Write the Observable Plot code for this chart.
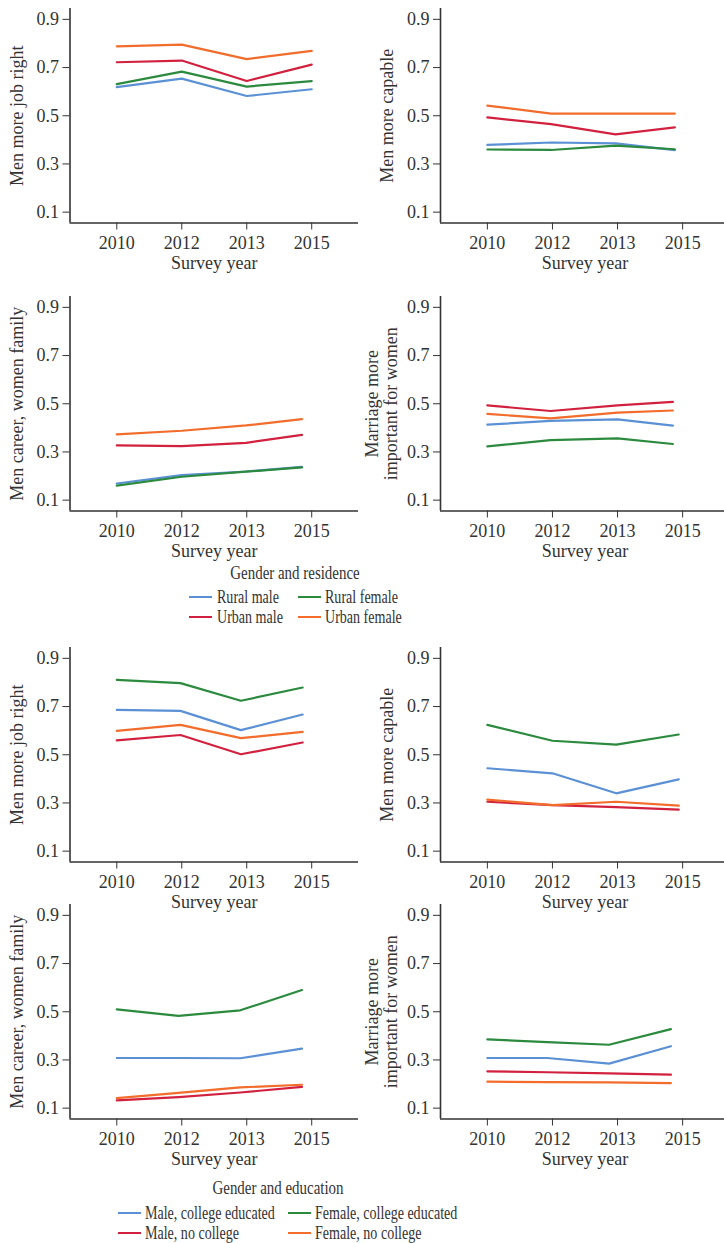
<!DOCTYPE html>
<html>
<head>
<meta charset="utf-8">
<script src="https://cdn.jsdelivr.net/npm/d3@7"></script>
<script src="https://cdn.jsdelivr.net/npm/@observablehq/plot@0.6"></script>
<style>
  html, body { margin: 0; padding: 0; background: #fff; }
  #root { position: relative; width: 724px; height: 1243px; overflow: hidden; font-family: 'Liberation Serif', serif; color: #333; }
  .panel { position: absolute; width: 370px; }
  .panel svg { overflow: visible; max-width: none !important; }
  .lg-title, .lg-label { position: absolute; font-size: 18px; line-height: 1; white-space: nowrap; color: #333; }
  .lg-swatch { position: absolute; height: 2.6px; }
</style>
</head>
<body>
<div id="root"></div>
<script>
// ---- Data ----
const years = ["2010", "2012", "2013", "2015"];
const yTicks = [0.1, 0.3, 0.5, 0.7, 0.9];
const measures = ["Men more job right", "Men more capable", "Men career, women family", "Marriage more\nimportant for women"];

const residenceTitle = "Gender and residence";
const residenceGroups = ["Rural male", "Rural female", "Urban male", "Urban female"];
const educationTitle = "Gender and education";
const educationGroups = ["Male, college educated", "Female, college educated", "Male, no college", "Female, no college"];
const seriesColors = ["#5b91d4", "#2b8a3e", "#d2213f", "#f26c2b"];

// series order: [blue, green, red, orange] for each panel
const resJobRight   = [[0.619, 0.654, 0.582, 0.610], [0.631, 0.683, 0.621, 0.644], [0.722, 0.729, 0.644, 0.712], [0.788, 0.795, 0.735, 0.769]];
const resCapable    = [[0.379, 0.389, 0.385, 0.357], [0.360, 0.358, 0.376, 0.361], [0.493, 0.465, 0.423, 0.452], [0.542, 0.509, 0.509, 0.509]];
const resCareer     = [[0.169, 0.204, 0.219, 0.238], [0.160, 0.197, 0.218, 0.236], [0.327, 0.324, 0.338, 0.371], [0.373, 0.388, 0.410, 0.436]];
const resMarriage   = [[0.413, 0.429, 0.435, 0.409], [0.323, 0.349, 0.356, 0.333], [0.493, 0.470, 0.493, 0.508], [0.458, 0.439, 0.463, 0.472]];

const eduJobRight   = [[0.686, 0.682, 0.602, 0.667], [0.811, 0.797, 0.724, 0.779], [0.560, 0.582, 0.502, 0.551], [0.599, 0.624, 0.569, 0.595]];
const eduCapable    = [[0.444, 0.423, 0.340, 0.398], [0.624, 0.558, 0.542, 0.584], [0.305, 0.291, 0.283, 0.272], [0.314, 0.291, 0.305, 0.289]];
const eduCareer     = [[0.308, 0.308, 0.307, 0.347], [0.510, 0.483, 0.506, 0.590], [0.132, 0.146, 0.165, 0.188], [0.142, 0.163, 0.186, 0.197]];
const eduMarriage   = [[0.308, 0.308, 0.285, 0.357], [0.385, 0.374, 0.363, 0.428], [0.253, 0.249, 0.244, 0.239], [0.210, 0.208, 0.207, 0.204]];

// survey positions (in year-slot units) where each panel's points sit
const resXPos = [[0, 1, 2, 3], [0, 0.98, 1.97, 2.88], [0, 1, 1.99, 2.85], [0, 0.97, 2, 2.85]];
const eduXPos = [[0, 0.98, 1.91, 2.86], [0, 1, 1.98, 2.94], [0, 0.95, 1.9, 2.85], [0, 0.92, 1.87, 2.82]];

// ---- Drawing ----
const root = document.getElementById("root");
const X_DOMAIN = [-0.72, 3.72];
const Y_DOMAIN = [0.055, 0.945];

function panel(measure, series, groups, xpos, isRight) {
  const rows = [];
  groups.forEach((g, i) => series[i].forEach((v, j) => rows.push({group: g, slot: xpos[j], value: v})));
  const twoLine = measure.includes("\n");
  return Plot.plot({
    width: isRight ? 367 : 362,
    height: 281,
    marginTop: 10,
    marginBottom: 56.5,
    marginLeft: isRight ? 78 : 69.5,
    marginRight: isRight ? 0 : 4,
    style: {fontFamily: "'Liberation Serif', serif", fontSize: "18px", color: "#333", background: "transparent", overflow: "visible", maxWidth: "none"},
    x: {domain: X_DOMAIN, ticks: [0, 1, 2, 3], tickFormat: i => years[i], tickSize: 7, tickPadding: 6, label: null},
    y: {domain: Y_DOMAIN, ticks: yTicks, tickFormat: d => d.toFixed(1), tickSize: 7, tickPadding: 4, label: null},
    color: {domain: groups, range: seriesColors},
    marks: [
      Plot.ruleY([Y_DOMAIN[0]], {stroke: "#333", strokeWidth: 1.6}),
      Plot.ruleX([X_DOMAIN[0]], {stroke: "#333", strokeWidth: 1.6}),
      Plot.line(rows, {x: "slot", y: "value", z: "group", stroke: "group", strokeWidth: 2.2}),
      Plot.text(["Survey year"], {text: d => d, frameAnchor: "bottom", dy: 40.5, textAnchor: "middle", lineAnchor: "middle", fill: "#333"}),
      Plot.text([measure], {text: d => d, frameAnchor: "left", dx: twoLine ? -59 : (isRight ? -53 : -52.5), rotate: -90, textAnchor: "middle", lineAnchor: "middle", lineHeight: 1.03, fill: "#333"})
    ]
  });
}

function place(el, left, top) {
  const d = document.createElement("div");
  d.className = "panel";
  d.style.left = left + "px";
  d.style.top = top + "px";
  d.appendChild(el);
  root.appendChild(d);
}

const resSets = [resJobRight, resCapable, resCareer, resMarriage];
const eduSets = [eduJobRight, eduCapable, eduCareer, eduMarriage];
const resTops = [-2, -2, 286, 286];
const eduTops = [637, 637, 893.5, 893.5];

resSets.forEach((s, k) => {
  const isRight = k % 2 === 1;
  place(panel(measures[k], s, residenceGroups, resXPos[k], isRight), isRight ? 362 : 0, resTops[k]);
});
eduSets.forEach((s, k) => {
  const isRight = k % 2 === 1;
  place(panel(measures[k], s, educationGroups, eduXPos[k], isRight), isRight ? 362 : 0, eduTops[k]);
});

function legend(title, groups, titleX, titleY, swatchX, textX, rowY) {
  const t = document.createElement("div");
  t.className = "lg-title";
  t.textContent = title;
  t.style.left = titleX + "px";
  t.style.top = titleY + "px";
  t.style.transform = "translate(-50%, -50%) scaleX(0.83)";
  root.appendChild(t);
  groups.forEach((g, i) => {
    const col = i % 2, row = Math.floor(i / 2);
    const sw = document.createElement("div");
    sw.className = "lg-swatch";
    sw.style.left = swatchX[col] + "px";
    sw.style.width = "23px";
    sw.style.top = (rowY[row] - 1.3) + "px";
    sw.style.background = seriesColors[i];
    root.appendChild(sw);
    const l = document.createElement("div");
    l.className = "lg-label";
    l.textContent = g;
    l.style.left = textX[col] + "px";
    l.style.top = rowY[row] + "px";
    l.style.transformOrigin = "left center";
    l.style.transform = "translateY(-50%) scaleX(0.78)";
    root.appendChild(l);
  });
}

legend(residenceTitle, residenceGroups, 295, 573, [189, 298], [217, 325], [597, 617]);
legend(educationTitle, educationGroups, 278, 1188, [118, 288], [145, 315], [1213, 1233]);
</script>
</body>
</html>
